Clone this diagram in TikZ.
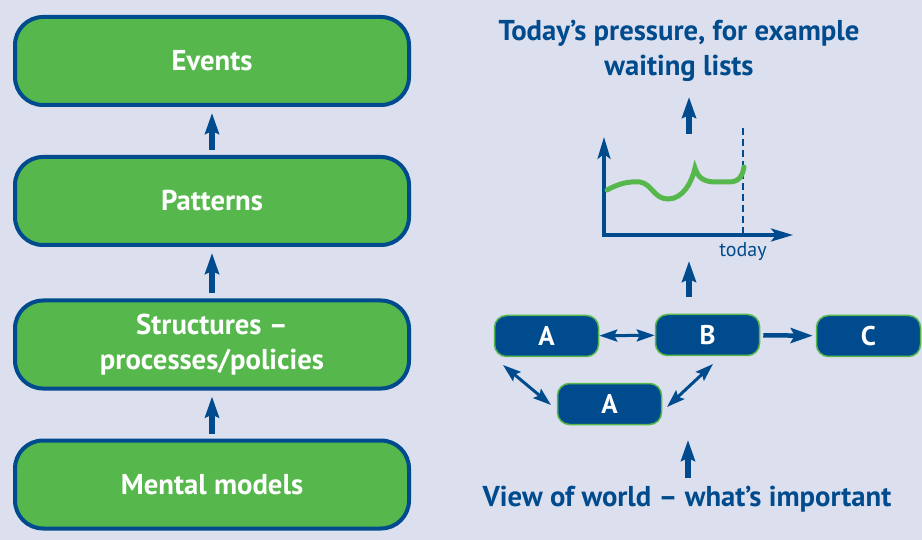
\documentclass[tikz,border=0pt]{standalone}
\usepackage{fontspec}
\setmainfont{PT Sans}
\usetikzlibrary{arrows.meta}
\definecolor{bg}{RGB}{220,223,238}
\definecolor{nblue}{RGB}{0,75,141}
\definecolor{ngreen}{RGB}{86,184,76}
\begin{document}
\begin{tikzpicture}[x=1pt,y=-1pt,
  bigbox/.style={draw=nblue, line width=4pt, fill=ngreen, rounded corners=28pt,
    minimum width=394pt, minimum height=88pt, text=white, align=center,
    font=\fontsize{28.7}{35}\selectfont\bfseries},
  smallbox/.style={draw=ngreen, line width=1.5pt, fill=nblue, rounded corners=12pt,
    minimum width=104pt, minimum height=41pt, text=white,
    font=\fontsize{27}{30}\selectfont\bfseries},
  bluetext/.style={text=nblue, align=center, font=\fontsize{28.7}{35}\selectfont\bfseries},
  uparrow/.style={nblue, line width=5.5pt, -{Stealth[length=21pt,width=14pt,inset=3pt]}},
  axisarrow/.style={nblue, line width=3.5pt, -{Stealth[length=22pt,width=13pt,inset=5pt]}},
  dblarrow/.style={nblue, line width=3pt, {Stealth[length=18pt,width=12pt,inset=3pt]}-{Stealth[length=18pt,width=12pt,inset=3pt]}},
  onearrow/.style={nblue, line width=4.5pt, -{Stealth[length=22pt,width=15pt,inset=4pt]}}
]
\fill[bg] (0,0) rectangle (922,540);
\useasboundingbox (0,0) rectangle (922,540);

% left column
\node[bigbox] (ev) at (212,61) {Events};
\node[bigbox] (pa) at (212,201) {Patterns};
\node[bigbox] (st) at (212,344.5) {Structures --\\processes/policies};
\node[bigbox] (mm) at (212,484.5) {Mental models};
\draw[uparrow, shorten <=5pt, shorten >=6pt] (pa) -- (ev);
\draw[uparrow, shorten <=5pt, shorten >=6pt] (st) -- (pa);
\draw[uparrow, shorten <=5pt, shorten >=6pt] (mm) -- (st);

% right side texts
\node[bluetext] (title) at (679,51) {Today’s pressure, for example\\waiting lists};
\node[bluetext] (view) at (687,499) {View of world -- what’s important};

% graph
\coordinate (org) at (604,235);
\coordinate (ytip) at (604,137);
\coordinate (xtip) at (793,235);
\coordinate (dtop) at (743,128);
\coordinate (dbot) at (743,235);
\draw[nblue, line width=2.5pt, dash pattern=on 7pt off 4pt] (dtop) -- (dbot);
\draw[axisarrow] (org) -- (ytip);
\draw[axisarrow] ([xshift=-1.75pt]org) -- (xtip);
\draw[ngreen, line width=5pt, line cap=round]
  (607,190) .. controls (618,184) and (628,181) .. (640,182)
  .. controls (652,184) and (654,199) .. (668,199)
  .. controls (683,199) and (692,182) .. (695,168)
  .. controls (698,178) and (704,182) .. (716,182)
  -- (728,182) .. controls (738,182) and (742,178) .. (744,167);
\node[text=nblue, font=\fontsize{20}{22}\selectfont] (today) at (743,252) {today};

\coordinate (gtopa) at (689,134);
\coordinate (gtopb) at (689,97);
\draw[uparrow] (gtopa) -- (gtopb);
\coordinate (gbota) at (689,297);
\coordinate (gbotb) at (689,261);
\draw[uparrow] (gbota) -- (gbotb);

% network
\node[smallbox] (a1) at (546.5,336) {A};
\node[smallbox] (b) at (707.5,335) {B};
\node[smallbox] (c) at (868.5,336) {C};
\node[smallbox] (a2) at (609.5,404) {A};
\draw[dblarrow] (a1) -- (b);
\draw[onearrow, shorten <=3pt, shorten >=3pt] (b) -- (c);
\coordinate (d1a) at (503,365);
\coordinate (d1b) at (551,405);
\draw[dblarrow] (d1a) -- (d1b);
\coordinate (d2a) at (713,364);
\coordinate (d2b) at (667,407);
\draw[dblarrow] (d2a) -- (d2b);

\coordinate (vtail) at (688,478);
\coordinate (vtip) at (688,440);
\draw[uparrow] (vtail) -- (vtip);
\end{tikzpicture}
\end{document}
